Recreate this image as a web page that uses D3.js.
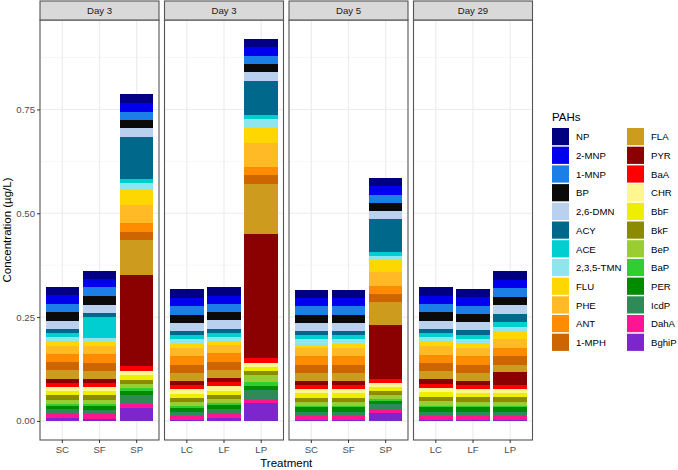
<!DOCTYPE html>
<html>
<head>
<meta charset="utf-8">
<script src="https://cdn.jsdelivr.net/npm/d3@7"></script>
<style>
  body { margin: 0; background: #fff; }
  svg { font-family: "Liberation Sans", Arial, sans-serif; }
</style>
</head>
<body>
<svg id="chart" width="678" height="470"></svg>
<script>
// PAH species, top of stack first
var pahs = ["NP", "2-MNP", "1-MNP", "BP", "2,6-DMN", "ACY", "ACE", "2,3,5-TMN",
  "FLU", "PHE", "ANT", "1-MPH", "FLA", "PYR", "BaA", "CHR",
  "BbF", "BkF", "BeP", "BaP", "PER", "IcdP", "DahA", "BghiP"];

var pahColors = ["#000080", "#0000EE", "#1C7FE8", "#0A0A0A", "#B9D1EE", "#00688B", "#00CED1", "#8EE5EE",
  "#FFD700", "#FFBA26", "#FF8C00", "#CD6600", "#CD9B1D", "#8B0000", "#FF0000", "#FFF68F",
  "#EEEE00", "#8B8B00", "#9ACD32", "#32CD32", "#008B00", "#2E8B57", "#FF1493", "#7D26CD"];

var facets = ["Day 3", "Day 3", "Day 5", "Day 29"];
var facetTreatments = [["SC", "SF", "SP"], ["LC", "LF", "LP"], ["SC", "SF", "SP"], ["LC", "LF", "LP"]];
var yTicks = [0, 0.25, 0.5, 0.75];

// concentrations (ug/L), same order as pahs
var day3_SC = [0.019, 0.020, 0.021, 0.021, 0.0185, 0.0096, 0.0103, 0.0089, 0.0127, 0.0185, 0.020, 0.020,
  0.021, 0.0096, 0.0089, 0.0113, 0.0096, 0.0103, 0.0096, 0.0048, 0.0089, 0.0103, 0.0096, 0.0079];
var day3_SF = [0.0192, 0.020, 0.0216, 0.020, 0.0192, 0.0096, 0.0505, 0.0096, 0.0113, 0.0185, 0.0216, 0.020,
  0.0185, 0.0096, 0.0103, 0.0096, 0.0103, 0.0103, 0.0096, 0.0048, 0.0113, 0.0096, 0.0103, 0.0055];
var day3_SP = [0.020, 0.0216, 0.020, 0.0185, 0.0216, 0.1017, 0.0096, 0.0168, 0.0377, 0.0425, 0.0209, 0.0192,
  0.0858, 0.2188, 0.0103, 0.0096, 0.012, 0.0103, 0.0096, 0.0079, 0.0103, 0.020, 0.0103, 0.0313];
var day3_LC = [0.020, 0.0209, 0.0209, 0.0192, 0.020, 0.0096, 0.0096, 0.012, 0.0096, 0.0192, 0.020, 0.0192,
  0.0209, 0.0096, 0.0096, 0.0103, 0.0096, 0.0103, 0.0103, 0.0036, 0.0103, 0.0103, 0.0096, 0.0019];
var day3_LF = [0.0216, 0.0192, 0.020, 0.020, 0.0209, 0.0096, 0.0096, 0.0103, 0.0103, 0.0192, 0.0209, 0.0192,
  0.020, 0.0096, 0.0096, 0.0103, 0.0113, 0.0096, 0.0096, 0.0041, 0.0096, 0.0113, 0.0103, 0.0072];
var day3_LP = [0.020, 0.020, 0.0209, 0.0192, 0.020, 0.0817, 0.0103, 0.0209, 0.0377, 0.0577, 0.020, 0.020,
  0.1209, 0.2981, 0.012, 0.0103, 0.0096, 0.0103, 0.0161, 0.0096, 0.0103, 0.020, 0.0113, 0.0425];
var day5_SC = [0.020, 0.020, 0.0209, 0.020, 0.0192, 0.0096, 0.0096, 0.0127, 0.0089, 0.0192, 0.020, 0.020,
  0.020, 0.0103, 0.0096, 0.0096, 0.0103, 0.0103, 0.0096, 0.0024, 0.012, 0.0103, 0.0096, 0.0017];
var day5_SF = [0.020, 0.020, 0.0209, 0.020, 0.0192, 0.0096, 0.0096, 0.0125, 0.0092, 0.0192, 0.020, 0.0202,
  0.0198, 0.0103, 0.0096, 0.0096, 0.0103, 0.0103, 0.0096, 0.0024, 0.012, 0.0103, 0.0096, 0.0017];
var day5_SP = [0.0192, 0.0216, 0.020, 0.0192, 0.0192, 0.0786, 0.0096, 0.0096, 0.0288, 0.0337, 0.0192, 0.020,
  0.0546, 0.1305, 0.0096, 0.0103, 0.0096, 0.0103, 0.0096, 0.0041, 0.0079, 0.0103, 0.0113, 0.0185];
var day29_LC = [0.0216, 0.0192, 0.020, 0.020, 0.020, 0.0103, 0.0096, 0.0089, 0.012, 0.0209, 0.020, 0.020,
  0.020, 0.0113, 0.0103, 0.0096, 0.0103, 0.0113, 0.0103, 0.0024, 0.012, 0.0096, 0.0103, 0.0024];
var day29_LF = [0.0192, 0.0209, 0.020, 0.020, 0.0192, 0.0103, 0.0096, 0.0113, 0.0103, 0.0209, 0.020, 0.020,
  0.020, 0.0103, 0.0089, 0.0096, 0.0103, 0.0103, 0.0103, 0.0024, 0.012, 0.0103, 0.0096, 0.0017];
var day29_LP = [0.0209, 0.020, 0.020, 0.020, 0.0209, 0.020, 0.0113, 0.0096, 0.020, 0.0209, 0.0209, 0.020,
  0.0192, 0.0305, 0.0096, 0.0096, 0.0103, 0.0103, 0.0103, 0.0024, 0.012, 0.0103, 0.0096, 0.0017];

var facetValues = [[day3_SC, day3_SF, day3_SP], [day3_LC, day3_LF, day3_LP],
  [day5_SC, day5_SF, day5_SP], [day29_LC, day29_LF, day29_LP]];

var svg = d3.select("#chart");
var panelLeft = 40, panelW = 119, panelGap = 5.5;
var stripTop = 1, panelTop = 20, panelBottom = 440;
var fontSm = 9.6;

var color = d3.scaleOrdinal().domain(pahs).range(pahColors);

// one row per bar for d3.stack
function rowsFor(f) {
  return facetTreatments[f].map(function(t, i) {
    var row = {treatment: t};
    pahs.forEach(function(p, k) { row[p] = facetValues[f][i][k]; });
    return row;
  });
}

var stack = d3.stack().keys(pahs).order(d3.stackOrderReverse);

var ymax = d3.max(facetValues, function(fv) { return d3.max(fv, function(v) { return d3.sum(v); }); });
var pad = ymax * 0.05;
var y = d3.scaleLinear().domain([-pad, ymax + pad]).range([panelBottom, panelTop]);

facets.forEach(function(label, f) {
  var x0 = panelLeft + f * (panelW + panelGap);
  var g = svg.append("g").attr("transform", "translate(" + x0 + ",0)");
  var x = d3.scaleBand().domain(facetTreatments[f]).range([0, panelW])
    .paddingInner(0.1).paddingOuter(0.15);

  g.append("rect").attr("x", 0).attr("y", panelTop).attr("width", panelW)
    .attr("height", panelBottom - panelTop).attr("fill", "#fff");

  // grid
  var minor = d3.range(0.125, ymax + pad, 0.25);
  g.selectAll(".minor").data(minor).enter().append("line")
    .attr("x1", 0).attr("x2", panelW)
    .attr("y1", function(d) { return y(d); }).attr("y2", function(d) { return y(d); })
    .attr("stroke", "#F2F2F2").attr("stroke-width", 0.6);
  g.selectAll(".major").data(yTicks).enter().append("line")
    .attr("x1", 0).attr("x2", panelW)
    .attr("y1", function(d) { return y(d); }).attr("y2", function(d) { return y(d); })
    .attr("stroke", "#EBEBEB").attr("stroke-width", 1.1);
  g.selectAll(".vgrid").data(facetTreatments[f]).enter().append("line")
    .attr("x1", function(d) { return x(d) + x.bandwidth() / 2; })
    .attr("x2", function(d) { return x(d) + x.bandwidth() / 2; })
    .attr("y1", panelTop).attr("y2", panelBottom)
    .attr("stroke", "#EBEBEB").attr("stroke-width", 1.1);

  // stacked bars
  var series = stack(rowsFor(f));
  g.selectAll(".series").data(series).enter().append("g")
    .attr("fill", function(d) { return color(d.key); })
    .attr("shape-rendering", "crispEdges")
    .selectAll("rect").data(function(d) { return d; }).enter().append("rect")
    .attr("x", function(d) { return x(d.data.treatment); })
    .attr("width", x.bandwidth())
    .attr("y", function(d) { return y(d[1]); })
    .attr("height", function(d) { return y(d[0]) - y(d[1]); });

  g.append("rect").attr("x", 0).attr("y", panelTop).attr("width", panelW)
    .attr("height", panelBottom - panelTop).attr("fill", "none")
    .attr("stroke", "#555").attr("stroke-width", 1.1);

  // strip
  g.append("rect").attr("x", 0).attr("y", stripTop).attr("width", panelW)
    .attr("height", panelTop - stripTop).attr("fill", "#D9D9D9")
    .attr("stroke", "#555").attr("stroke-width", 1.1);
  g.append("text").attr("x", panelW / 2).attr("y", (stripTop + panelTop) / 2 + 3.5)
    .attr("text-anchor", "middle").attr("font-size", fontSm).attr("fill", "#1A1A1A").text(label);

  // x axis
  var xa = g.append("g").attr("transform", "translate(0," + panelBottom + ")")
    .call(d3.axisBottom(x).tickSize(3).tickPadding(3));
  xa.select(".domain").remove();
  xa.selectAll("line").attr("stroke", "#333");
  xa.selectAll("text").attr("font-size", fontSm).attr("fill", "#4D4D4D").attr("font-family", null);
});

// y axis
var ya = svg.append("g").attr("transform", "translate(" + panelLeft + ",0)")
  .call(d3.axisLeft(y).tickValues(yTicks).tickFormat(d3.format(".2f")).tickSize(3).tickPadding(2));
ya.select(".domain").remove();
ya.selectAll("line").attr("stroke", "#333");
ya.selectAll("text").attr("font-size", fontSm).attr("fill", "#4D4D4D").attr("font-family", null);

// axis titles
var plotRight = panelLeft + 4 * panelW + 3 * panelGap;
svg.append("text").attr("x", (panelLeft + plotRight) / 2).attr("y", 467)
  .attr("text-anchor", "middle").attr("font-size", 11.5).attr("fill", "#000").text("Treatment");
svg.append("text")
  .attr("transform", "translate(11," + (panelTop + panelBottom) / 2 + ") rotate(-90)")
  .attr("text-anchor", "middle").attr("font-size", 11.5).attr("fill", "#000").text("Concentration (µg/L)");

// legend
var legX = 552, legY = 128, keyH = 18.7, keyW = 17, colStep = 75;
var leg = svg.append("g");
leg.append("text").attr("x", legX).attr("y", 121).attr("font-size", 11.5).attr("fill", "#000").text("PAHs");
var item = leg.selectAll(".item").data(pahs).enter().append("g")
  .attr("transform", function(d, i) {
    return "translate(" + (legX + Math.floor(i / 12) * colStep) + "," + (legY + (i % 12) * keyH) + ")";
  });
item.append("rect").attr("width", keyW).attr("height", keyH - 1.5)
  .attr("fill", function(d) { return color(d); });
item.append("text").attr("x", keyW + 7).attr("y", keyH / 2 + 3)
  .attr("font-size", fontSm).attr("fill", "#000").text(function(d) { return d; });
</script>
</body>
</html>
